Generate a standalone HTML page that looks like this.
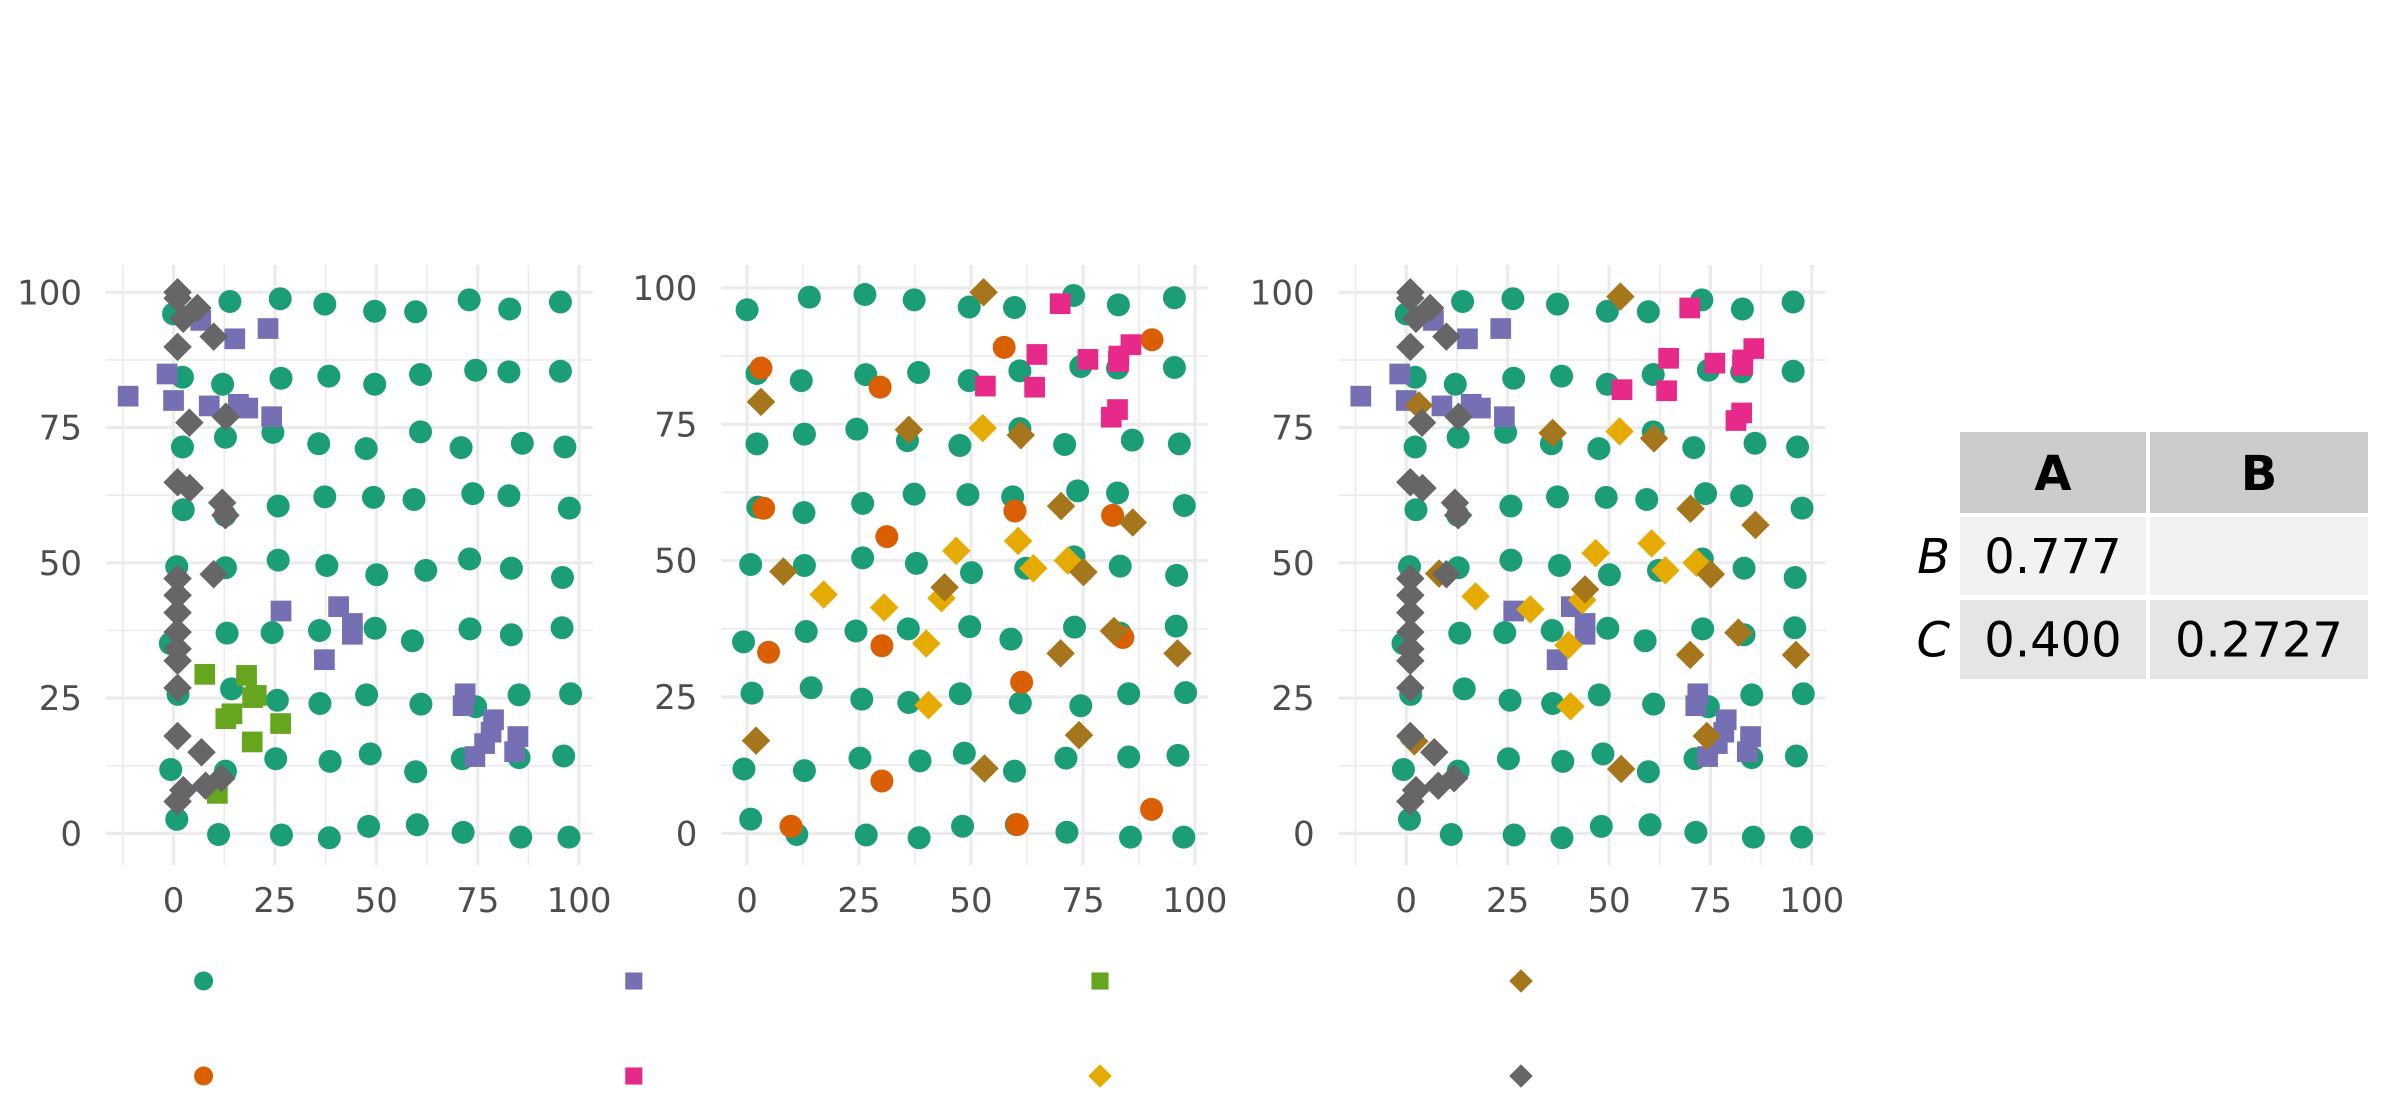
<!DOCTYPE html>
<html><head><meta charset="utf-8"><style>
html,body{margin:0;padding:0;background:#fff;}
svg{display:block;font-family:"DejaVu Sans","Liberation Sans",sans-serif;}
</style></head><body>
<svg id="chart" width="2400" height="1113" viewBox="0 0 2400 1113" xmlns="http://www.w3.org/2000/svg"></svg>
<script>
// ---- data ----
const tealX=[0.0,13.9,26.3,37.3,49.6,59.7,72.9,82.9,95.4, 2.2,12.1,26.5,38.3,49.6,60.9,74.5,82.7,95.4, 2.2,12.8,24.5,35.8,47.5,60.9,70.9,86.0,96.5, 2.4,12.7,25.8,37.3,49.3,59.3,73.8,82.7,97.6, 0.8,12.8,25.8,37.8,50.1,62.2,73.0,83.3,95.9, -0.8,13.2,24.3,36.0,49.7,58.9,73.1,83.3,95.8, 1.1,14.3,25.6,36.1,47.6,61.0,74.5,85.2,97.9, -0.7,12.8,25.2,38.6,48.5,59.7,71.2,85.2,96.2, 0.8,11.1,26.6,38.4,48.1,60.1,71.4,85.6,97.5];
const tealY=[96.0,98.3,98.8,97.8,96.5,96.4,98.6,96.9,98.2, 84.3,83.0,84.1,84.5,83.0,84.8,85.6,85.3,85.4, 71.4,73.2,74.1,72.0,71.1,74.2,71.3,72.1,71.4, 59.8,58.8,60.5,62.2,62.1,61.7,62.8,62.4,60.1, 49.3,49.1,50.5,49.5,47.8,48.6,50.7,49.0,47.3, 35.1,37.0,37.1,37.5,37.9,35.6,37.8,36.7,38.0, 25.7,26.7,24.6,24.0,25.6,23.9,23.4,25.6,25.8, 11.8,11.5,13.8,13.3,14.7,11.4,13.8,14.0,14.3, 2.6,-0.2,-0.3,-0.8,1.3,1.6,0.2,-0.7,-0.7];
const purpleX=[-11.2,-1.6,0.0,6.7,15.1,23.3,8.8,16.0,18.3,24.2,26.5,40.7,44.1,44.1,37.2,71.9,71.4,78.9,78.3,76.7,74.3,84.9,84.1];
const purpleY=[80.8,84.9,80.0,94.8,91.4,93.3,79.0,79.3,78.6,77.0,41.1,41.9,38.8,36.8,32.1,25.8,23.6,21.0,18.7,16.6,14.2,17.9,15.1];
const greenX=[7.7,18.0,19.5,20.4,14.4,12.9,26.4,19.4,10.8];
const greenY=[29.4,29.2,25.1,25.5,22.1,21.2,20.3,16.9,7.4];
const grayX=[1.0,1.0,5.9,2.4,9.9,1.0,3.9,12.9,1.0,4.0,12.0,12.8,9.9,1.0,1.0,1.0,1.0,1.0,1.0,1.0,1.0,6.9,2.4,1.0,7.9,11.8];
const grayY=[100.0,98.9,97.1,95.1,91.8,89.9,75.9,77.0,64.9,63.8,61.1,58.8,47.9,47.1,44.0,40.8,37.2,34.1,31.9,26.9,18.0,15.0,8.0,5.9,8.8,10.2];
const orangeX=[3.1,29.7,57.4,90.4,3.7,31.2,59.8,81.6,4.8,30.1,83.9,61.3,30.1,90.3,9.8,60.3];
const orangeY=[85.3,81.8,89.1,90.5,59.6,54.4,59.1,58.3,33.2,34.4,35.9,27.7,9.6,4.4,1.3,1.6];
const pinkX=[69.9,53.2,64.7,64.2,76.1,83.0,82.9,85.7,82.7,81.3];
const pinkY=[97.1,82.0,87.8,81.8,86.9,87.5,86.5,89.6,77.7,76.3];
const yellowX=[52.6,46.7,60.5,63.9,71.6,17.1,30.6,43.4,40.0,40.5];
const yellowY=[74.3,51.8,53.6,48.6,50.0,43.8,41.4,43.1,34.8,23.5];
const brownX=[52.8,3.1,36.1,61.1,70.1,86.1,8.1,75.1,44.1,81.9,70.0,96.1,2.0,74.1,53.0];
const brownY=[99.2,79.1,74.0,73.0,60.0,57.0,48.0,47.9,45.1,37.1,33.0,33.0,17.0,18.0,11.9];
const tickValues=[0,25,50,75,100];
const tickLabels=["0","25","50","75","100"];
const tableCols=["A","B"];
const tableRows=["B","C"];
const tableVals=[["0.777",""],["0.400","0.2727"]];

const NS="http://www.w3.org/2000/svg";
const svg=document.getElementById('chart');
function mk(tag,attrs,parent){const e=document.createElementNS(NS,tag);for(const k in attrs)e.setAttribute(k,attrs[k]);(parent||svg).appendChild(e);return e;}

const series={
 teal:{x:tealX,y:tealY,color:"#1B9E77",shape:"circle"},
 orange:{x:orangeX,y:orangeY,color:"#D95F02",shape:"circle"},
 purple:{x:purpleX,y:purpleY,color:"#7570B3",shape:"square"},
 pink:{x:pinkX,y:pinkY,color:"#E7298A",shape:"square"},
 green:{x:greenX,y:greenY,color:"#66A61E",shape:"square"},
 yellow:{x:yellowX,y:yellowY,color:"#E6AB02",shape:"diamond"},
 brown:{x:brownX,y:brownY,color:"#A6761D",shape:"diamond"},
 gray:{x:grayX,y:grayY,color:"#666666",shape:"diamond"}
};
const panels=[
 {left:106,right:592.7,keys:["teal","purple","green","gray"]},
 {left:721.4,right:1207.7,keys:["teal","orange","pink","yellow","brown"]},
 {left:1338.7,right:1825.4,keys:["teal","purple","pink","yellow","brown","gray"]}
];
const TOP=265,BOT=865;

function marker(g,shape,cx,cy,color,s){
  let e;
  if(shape==="circle") e=mk('circle',{cx:cx,cy:cy,r:s*0.5,fill:color},g);
  else if(shape==="square") e=mk('rect',{x:cx-s*0.45,y:cy-s*0.45,width:s*0.9,height:s*0.9,fill:color},g);
  else { const d=s*0.62; e=mk('polygon',{points:`${cx},${cy-d} ${cx+d},${cy} ${cx},${cy+d} ${cx-d},${cy}`,fill:color},g); }
  return e;
}

panels.forEach((p,pi)=>{
  let xs=[],ys=[];
  p.keys.forEach(k=>{xs=xs.concat(series[k].x);ys=ys.concat(series[k].y);});
  const xmin=Math.min(...xs),xmax=Math.max(...xs),ymin=Math.min(...ys),ymax=Math.max(...ys);
  const xe=(xmax-xmin)*0.05,ye=(ymax-ymin)*0.05;
  const x0=xmin-xe,x1=xmax+xe,y0=ymin-ye,y1=ymax+ye;
  const sx=v=>p.left+(v-x0)/(x1-x0)*(p.right-p.left);
  const sy=v=>BOT-(v-y0)/(y1-y0)*(BOT-TOP);
  const g=mk('g',{});
  
  
  // minor grid
  for(let v=-12.5;v<=112.5;v+=25){
    if(v>x0&&v<x1){const l=mk('line',{x1:sx(v),x2:sx(v),y1:TOP,y2:BOT,stroke:"#ebebeb","stroke-width":1.6},g);}
    if(v>y0&&v<y1){const l=mk('line',{x1:p.left,x2:p.right,y1:sy(v),y2:sy(v),stroke:"#ebebeb","stroke-width":1.6},g);}
  }
  tickValues.forEach((v,i)=>{
    const lx=mk('line',{x1:sx(v),x2:sx(v),y1:TOP,y2:BOT,stroke:"#ebebeb","stroke-width":3.2},g);
    
    
    const ly=mk('line',{x1:p.left,x2:p.right,y1:sy(v),y2:sy(v),stroke:"#ebebeb","stroke-width":3.2},g);
    
    
    const tx=mk('text',{x:sx(v),y:912,"text-anchor":"middle","font-size":34,fill:"#4d4d4d"},g);
    tx.textContent=tickLabels[i];
    
    
    const ty=mk('text',{x:p.left-24,y:sy(v)+12,"text-anchor":"end","font-size":34,fill:"#4d4d4d"},g);
    ty.textContent=tickLabels[i];
    
    
  });
  p.keys.forEach(k=>{
    const s=series[k];
    s.x.forEach((xv,i)=>{
      const m=marker(g,s.shape,sx(xv),sy(s.y[i]),s.color,23);
      
      
    });
  });
});

// legend
const legendOrder=[["teal","orange"],["purple","pink"],["green","yellow"],["brown","gray"]];
const legendColX=[203.6,633.8,1100,1521];
const legendRowY=[981,1076];
const lg=mk('g',{});


legendOrder.forEach((col,ci)=>col.forEach((k,ri)=>{
  const s=series[k];
  const m=marker(lg,s.shape,legendColX[ci],legendRowY[ri],s.color,19);
  
  
}));

// table
const tg=mk('g',{});


const colX=[1960,2150],colW=[186,218];
const rowY=[517,600],rowH=[78,79];
const rowFill=["#f2f2f2","#e5e5e5"];
tableCols.forEach((c,ci)=>{
  const r=mk('rect',{x:colX[ci],y:432,width:colW[ci],height:81,fill:"#cccccc"},tg);
  
  
  const t=mk('text',{x:colX[ci]+colW[ci]/2,y:490,"text-anchor":"middle","font-size":48,"font-weight":"bold",fill:"#000"},tg);
  t.textContent=c;
  
  
});
tableRows.forEach((rname,ri)=>{
  const lt=mk('text',{x:1950,y:rowY[ri]+rowH[ri]/2+17,"text-anchor":"end","font-size":48,"font-style":"italic",fill:"#000"},tg);
  lt.textContent=rname;
  
  
  tableCols.forEach((c,ci)=>{
    const r=mk('rect',{x:colX[ci],y:rowY[ri],width:colW[ci],height:rowH[ri],fill:rowFill[ri]},tg);
    
    
    if(tableVals[ri][ci]){
      const t=mk('text',{x:colX[ci]+colW[ci]/2,y:rowY[ri]+rowH[ri]/2+17,"text-anchor":"middle","font-size":48,fill:"#000"},tg);
      t.textContent=tableVals[ri][ci];
      
      
    }
  });
});
</script>
</body></html>
